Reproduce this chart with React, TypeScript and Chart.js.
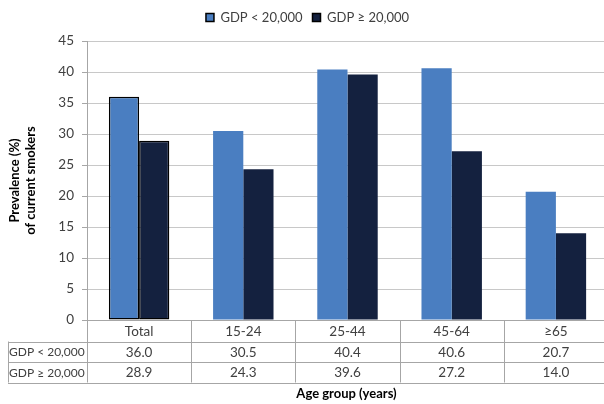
import React, { useEffect, useRef } from "react";
import { Chart, registerables } from "chart.js";

Chart.register(...registerables);

const categories = ["Total", "15-24", "25-44", "45-64", "≥65"];
const seriesNames = ["GDP < 20,000", "GDP ≥ 20,000"];
const lowGdp = [36.0, 30.5, 40.4, 40.6, 20.7];
const highGdp = [28.9, 24.3, 39.6, 27.2, 14.0];
const yTicks = [0, 5, 10, 15, 20, 25, 30, 35, 40, 45];

const FONT = "Lato";
const TEXT = "#404040";
const LINE = "#a6a6a6";

const tablePlugin = {
  id: "dataTable",
  afterDraw(chart: any) {
    const { ctx, chartArea } = chart;
    const x = chart.scales.x;
    const n = categories.length;
    const step = x.getPixelForValue(1) - x.getPixelForValue(0);
    const top = chartArea.bottom;
    const r1 = top + 21.5;
    const r2 = top + 41.5;
    const r3 = top + 62.5;
    const leftEdge = 8;
    const right = chart.width;
    ctx.save();
    ctx.strokeStyle = LINE;
    ctx.lineWidth = 1;
    ctx.beginPath();
    [r1, r2, r3].forEach((y) => {
      ctx.moveTo(leftEdge, Math.round(y) + 0.5);
      ctx.lineTo(right, Math.round(y) + 0.5);
    });
    ctx.moveTo(leftEdge + 0.5, r1);
    ctx.lineTo(leftEdge + 0.5, r3);
    for (let i = 0; i < n; i++) {
      const bx = Math.round(x.getPixelForValue(i) - step / 2) + 0.5;
      ctx.moveTo(bx, top);
      ctx.lineTo(bx, r3);
    }
    ctx.stroke();

    ctx.fillStyle = TEXT;
    ctx.font = `13.5px ${FONT}`;
    ctx.textBaseline = "middle";
    ctx.textAlign = "center";
    const rows = [lowGdp, highGdp];
    for (let i = 0; i < n; i++) {
      const cx = x.getPixelForValue(i);
      ctx.fillText(categories[i], cx, (top + r1) / 2 + 1);
      ctx.fillText(rows[0][i].toFixed(1), cx, (r1 + r2) / 2 + 1);
      ctx.fillText(rows[1][i].toFixed(1), cx, (r2 + r3) / 2 + 1);
    }
    ctx.textAlign = "left";
    ctx.font = `12px ${FONT}`;
    ctx.fillText(seriesNames[0], leftEdge + 1, (r1 + r2) / 2 + 1);
    ctx.fillText(seriesNames[1], leftEdge + 1, (r2 + r3) / 2 + 1);

    ctx.textAlign = "center";
    ctx.fillStyle = "#000";
    ctx.font = `bold 13px ${FONT}`;
    ctx.fillText("Age group (years)", (chartArea.left + chartArea.right) / 2 - 1, r3 + 11);
    ctx.restore();
  },
};

export default function App() {
  const ref = useRef<HTMLCanvasElement>(null);
  useEffect(() => {
    document.body.style.margin = "0";
    document.body.style.overflow = "hidden";
    const chart = new Chart(ref.current!, {
      type: "bar",
      data: {
        labels: categories,
        datasets: [
          {
            label: seriesNames[0],
            data: lowGdp,
            backgroundColor: "#4A7EC1",
            borderColor: "#000",
            borderWidth: [1.5, 0, 0, 0, 0],
            borderSkipped: false,
          },
          {
            label: seriesNames[1],
            data: highGdp,
            backgroundColor: "#14213F",
            borderColor: "#000",
            borderWidth: [1.5, 0, 0, 0, 0],
            borderSkipped: false,
          },
        ],
      },
      options: {
        animation: false,
        responsive: false,
        maintainAspectRatio: false,
        layout: { padding: { left: 7, right: 0, top: 1, bottom: 0 } },
        datasets: { bar: { categoryPercentage: 0.58, barPercentage: 1 } },
        plugins: {
          legend: {
            position: "top",
            labels: {
              boxWidth: 8,
              boxHeight: 8,
              padding: 10,
              color: TEXT,
              font: { family: FONT, size: 13 },
            },
          },
          subtitle: {
            display: true,
            text: " ",
            position: "top",
            weight: 500,
            font: { size: 1, lineHeight: 1 },
            padding: { top: 0, bottom: 6 },
          },
          tooltip: { enabled: false },
        },
        scales: {
          x: {
            ticks: { display: false },
            grid: { display: false },
            border: { display: true, color: LINE },
            afterFit: (s: any) => {
              s.height = 84;
            },
          },
          y: {
            min: 0,
            max: 45,
            afterBuildTicks: (s: any) => {
              s.ticks = yTicks.map((v) => ({ value: v }));
            },
            ticks: {
              stepSize: 5,
              padding: 8,
              color: TEXT,
              font: { family: FONT, size: 13.5 },
            },
            grid: { color: "#c8c8c8", tickLength: 5, tickColor: LINE },
            border: { display: true, color: LINE },
            title: {
              display: true,
              text: ["Prevalence (%)", "of current smokers"],
              color: "#000",
              font: { family: FONT, size: 13, weight: "bold" },
              padding: { top: 0, bottom: 0 },
            },
            afterFit: (s: any) => {
              s.width = 80;
            },
          },
        },
      },
      plugins: [tablePlugin],
    });
    return () => chart.destroy();
  }, []);
  return (
    <div style={{ width: 604, height: 404, overflow: "hidden" }}>
      <canvas ref={ref} width={608} height={404} style={{ display: "block" }} />
    </div>
  );
}
